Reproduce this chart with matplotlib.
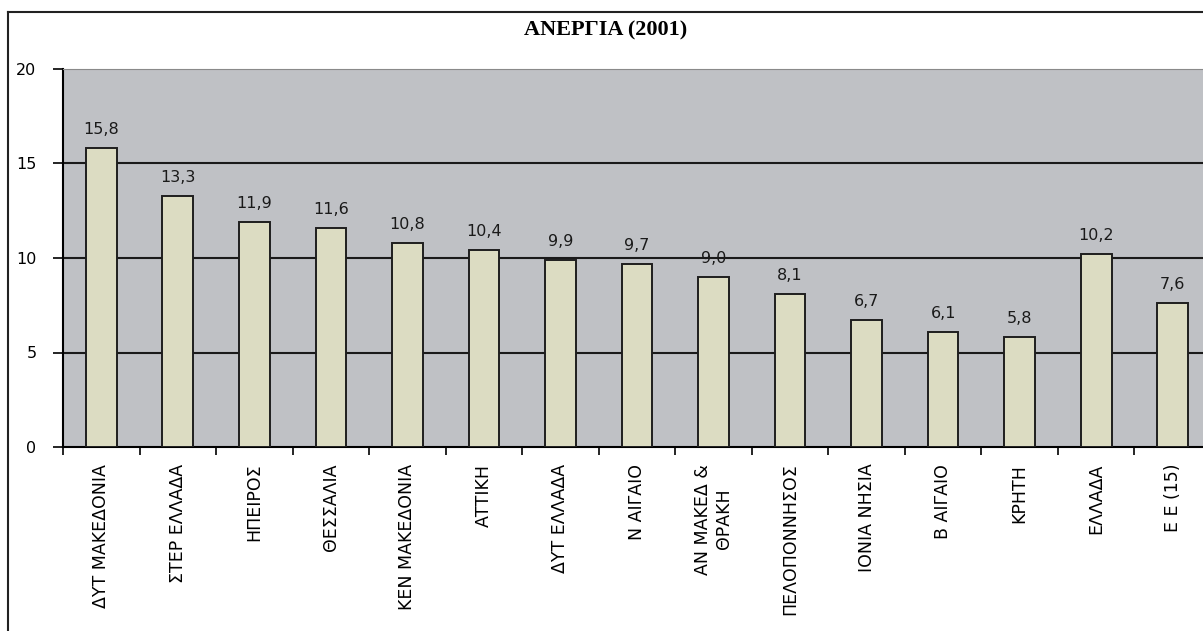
import numpy as np
import matplotlib.pyplot as plt
from matplotlib.lines import Line2D

# data
perioxes = ["ΔΥΤ ΜΑΚΕΔΟΝΙΑ", "ΣΤΕΡ ΕΛΛΑΔΑ", "ΗΠΕΙΡΟΣ", "ΘΕΣΣΑΛΙΑ", "ΚΕΝ ΜΑΚΕΔΟΝΙΑ",
            "ΑΤΤΙΚΗ", "ΔΥΤ ΕΛΛΑΔΑ", "Ν ΑΙΓΑΙΟ", "ΑΝ ΜΑΚΕΔ &\nΘΡΑΚΗ", "ΠΕΛΟΠΟΝΝΗΣΟΣ",
            "ΙΟΝΙΑ ΝΗΣΙΑ", "Β ΑΙΓΑΙΟ", "ΚΡΗΤΗ", "ΕΛΛΑΔΑ", "Ε Ε (15)"]
anergia = [15.8, 13.3, 11.9, 11.6, 10.8, 10.4, 9.9, 9.7, 9.0, 8.1, 6.7, 6.1, 5.8, 10.2, 7.6]
y_ticks = [0, 5, 10, 15, 20]

fig = plt.figure(figsize=(12.03, 6.31), dpi=100)
ax = fig.add_axes([63 / 1203, 184 / 631, 1148 / 1203, 378 / 631])
ax.set_facecolor("#bfc1c5")

x = np.arange(len(perioxes))
bars = ax.bar(x, anergia, width=0.4, color="#dcdcc2", edgecolor="#1e1e1e", linewidth=1.4, zorder=3)

# etiketes timon
for xi, v in zip(x, anergia):
    ax.annotate(f"{v:.1f}".replace(".", ","), (xi, v), xytext=(0, 8), textcoords="offset points",
                ha="center", va="bottom", fontsize=11.5, color="#1a1a1a")

ax.set_xlim(-0.5, len(perioxes) - 0.5)
ax.set_ylim(0, 20)
ax.set_yticks(y_ticks)
ax.set_yticklabels([str(t) for t in y_ticks], fontsize=11.5)
for g in [5, 10, 15]:
    ax.axhline(g, color="#1a1a1a", linewidth=1.5, zorder=1)

ax.set_xticks(x)
ax.set_xticklabels(perioxes, rotation=90, fontsize=12.5, va="top", ha="center", linespacing=1.25)
ax.set_xticks(np.arange(len(perioxes) + 1) - 0.5, minor=True)
ax.tick_params(axis="x", which="major", length=0, pad=12)
ax.tick_params(axis="x", which="minor", length=6, width=1.2, direction="out")
ax.tick_params(axis="y", length=7, width=1.2, direction="out", pad=12)

ax.spines["right"].set_visible(False)
ax.spines["top"].set_color("#8a8a8a")
ax.spines["left"].set_linewidth(1.5)
ax.spines["bottom"].set_linewidth(1.5)

fig.text(606 / 1203, 1 - 30 / 631, "ΑΝΕΡΓΙΑ (2001)", ha="center", va="center",
         fontsize=16, fontweight="bold", family="Liberation Serif")

# plaisio
fig.add_artist(Line2D([8 / 1203, 8 / 1203], [0, 1 - 12 / 631], color="#222222", linewidth=1.5))
fig.add_artist(Line2D([8 / 1203, 1], [1 - 12 / 631, 1 - 12 / 631], color="#222222", linewidth=1.5))

plt.savefig("out.png", dpi=100)
